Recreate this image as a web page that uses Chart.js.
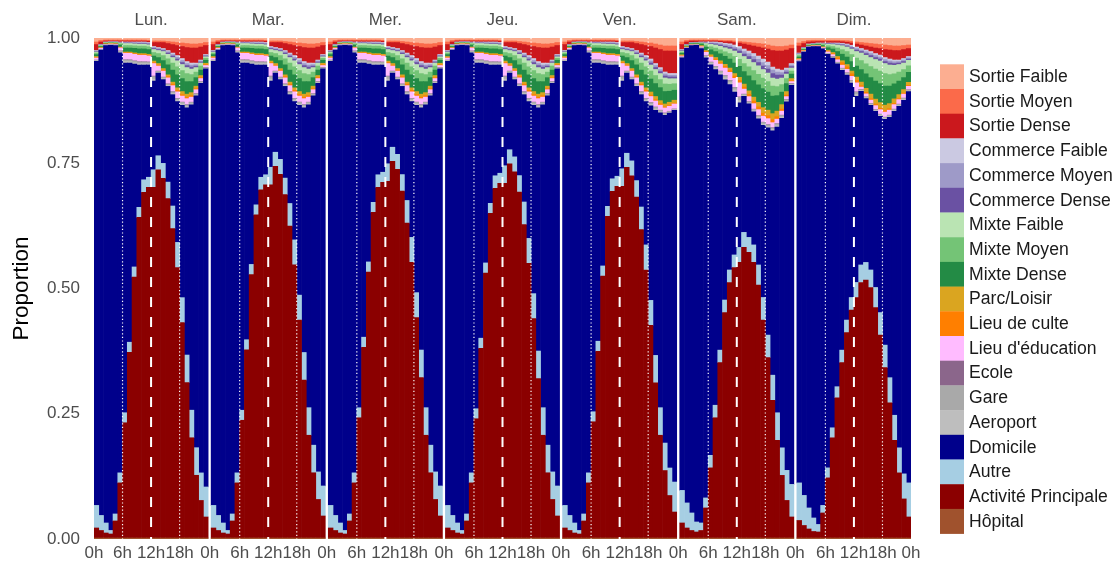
<!DOCTYPE html>
<html><head><meta charset="utf-8">
<script src="https://cdn.jsdelivr.net/npm/chart.js@4.4.1/dist/chart.umd.min.js"></script>
<style>html,body{margin:0;padding:0;background:#fff;}canvas{display:block;}</style>
</head><body>
<canvas id="c" width="1117" height="564"></canvas>
<script>
const FONT = "'Liberation Sans', Arial, Helvetica, sans-serif";
const DAYS = ['Lun.','Mar.','Mer.','Jeu.','Ven.','Sam.','Dim.'];
const DAY_PROFILE = ['sem','sem','sem','sem','ven','sam','dim'];
const HOURS = [0,1,2,3,4,5,6,7,8,9,10,11,12,13,14,15,16,17,18,19,20,21,22,23];
const HOUR_TICK_VALUES = [0,6,12,18];
const HOUR_TICK_LABELS = ['0h','6h','12h','18h'];
const END_TICK_LABEL = '0h';

// legend order (top of stack first)
const LEGEND_ORDER = ['Sortie Faible','Sortie Moyen','Sortie Dense','Commerce Faible','Commerce Moyen','Commerce Dense','Mixte Faible','Mixte Moyen','Mixte Dense','Parc/Loisir','Lieu de culte',"Lieu d'éducation",'Ecole','Gare','Aeroport','Domicile','Autre','Activité Principale','Hôpital'];
const LEGEND_COLORS = ['#FCAE91','#FB6A4A','#CB181D','#CBC9E2','#9E9AC8','#6A51A3','#BAE4B3','#74C476','#238B45','#DAA520','#FF7F00','#FFBBFF','#8B668B','#A9A9A9','#BEBEBE','#00008B','#A6CEE3','#8B0000','#A0522D'];

// ---- weekday profile (Lun.-Jeu.) minor categories ----
const SF_SEM = [.008,.005,.004,.004,.004,.004,.004,.004,.004,.004,.004,.0045,.006,.006,.006,.007,.008,.009,.01,.011,.012,.012,.011,.009];
const SM_SEM = [.005,.003,.002,.002,.002,.002,.002,.002,.002,.002,.002,.002,.003,.003,.003,.004,.005,.006,.007,.008,.008,.008,.007,.006];
const SD_SEM = [.012,.005,.002,.0015,.0015,.002,.002,.002,.002,.002,.002,.0025,.008,.01,.012,.014,.017,.02,.024,.028,.03,.03,.026,.018];
const CF_SEM = [.001,.0005,.0004,.0004,.0004,.0006,.001,.001,.0012,.0014,.0014,.0015,.002,.002,.002,.0025,.003,.0035,.004,.004,.004,.003,.002,.0015];
const CM_SEM = [.001,.0005,.0004,.0004,.0004,.0006,.001,.001,.0012,.0014,.0014,.0015,.002,.002,.002,.0025,.003,.0035,.004,.004,.004,.003,.002,.0015];
const CD_SEM = [.001,.0005,.0004,.0004,.0004,.0006,.001,.001,.0012,.0014,.0014,.0015,.002,.002,.002,.0025,.003,.0035,.004,.004,.004,.003,.002,.0015];
const MF_SEM = [.002,.001,.0006,.0006,.0007,.0018,.004,.004,.004,.004,.004,.004,.006,.006,.008,.009,.011,.012,.012,.012,.011,.009,.006,.003];
const MM_SEM = [.003,.0015,.0008,.0008,.0009,.0025,.005,.005,.005,.0055,.0055,.0055,.007,.008,.01,.012,.014,.016,.016,.016,.014,.011,.008,.004];
const MD_SEM = [.004,.002,.001,.001,.0012,.004,.008,.008,.009,.0095,.0095,.0095,.01,.012,.016,.02,.024,.026,.026,.025,.022,.017,.011,.006];
const PL_SEM = [.002,.001,.0006,.0005,.0005,.001,.0015,.0015,.0018,.002,.002,.002,.003,.003,.003,.0035,.004,.005,.006,.006,.006,.005,.004,.003];
const LC_SEM = [.001,.0005,.0004,.0004,.0004,.0007,.001,.001,.0012,.0013,.0013,.0013,.002,.002,.002,.0025,.003,.003,.003,.003,.003,.002,.002,.0015];
const LE_SEM = [.004,.002,.0012,.0012,.0015,.006,.013,.013,.013,.013,.013,.012,.025,.01,.012,.012,.012,.013,.012,.012,.01,.008,.006,.004];
const EC_SEM = [.0005,.0003,.0002,.0002,.0002,.0004,.0005,.0005,.0005,.0005,.0005,.0005,.001,.0005,.0005,.0005,.0005,.0005,.0005,.0005,.0005,.0005,.0005,.0005];
const GA_SEM = [.001,.0007,.0005,.0005,.0006,.0018,.003,.003,.003,.003,.003,.0028,.005,.002,.0025,.0025,.003,.003,.003,.003,.0025,.002,.0015,.001];
const AE_SEM = [.001,.0007,.0005,.0005,.0006,.0018,.003,.003,.003,.003,.003,.0028,.004,.0015,.002,.002,.0025,.003,.003,.003,.0025,.002,.0015,.001];

// ---- Friday evening differs (more outings) ----
const SF_VEN = [.008,.005,.004,.004,.004,.004,.004,.004,.004,.004,.004,.0045,.006,.006,.006,.007,.008,.009,.01,.012,.014,.016,.016,.016];
const SM_VEN = [.005,.003,.002,.002,.002,.002,.002,.002,.002,.002,.002,.002,.003,.003,.003,.004,.005,.006,.007,.008,.009,.01,.01,.01];
const SD_VEN = [.012,.005,.002,.0015,.0015,.002,.002,.002,.002,.002,.002,.0025,.008,.01,.012,.014,.017,.02,.025,.031,.036,.042,.045,.045];
const CF_VEN = [.001,.0005,.0004,.0004,.0004,.0006,.001,.001,.0012,.0014,.0014,.0015,.002,.002,.002,.0025,.003,.0035,.004,.004,.004,.004,.0035,.0035];
const CM_VEN = [.001,.0005,.0004,.0004,.0004,.0006,.001,.001,.0012,.0014,.0014,.0015,.002,.002,.002,.0025,.003,.0035,.004,.004,.004,.004,.0035,.0035];
const CD_VEN = [.001,.0005,.0004,.0004,.0004,.0006,.001,.001,.0012,.0014,.0014,.0015,.002,.002,.002,.0025,.003,.0035,.004,.004,.004,.004,.0035,.0035];
const MF_VEN = [.002,.001,.0006,.0006,.0007,.0018,.004,.004,.004,.004,.004,.004,.006,.006,.008,.009,.011,.012,.012,.012,.012,.012,.011,.01];
const MM_VEN = [.003,.0015,.0008,.0008,.0009,.0025,.005,.005,.005,.0055,.0055,.0055,.007,.008,.01,.012,.014,.016,.016,.016,.016,.015,.014,.013];
const MD_VEN = [.004,.002,.001,.001,.0012,.004,.008,.008,.009,.0095,.0095,.0095,.01,.012,.016,.02,.024,.026,.026,.026,.026,.025,.022,.02];
const PL_VEN = [.002,.001,.0006,.0005,.0005,.001,.0015,.0015,.0018,.002,.002,.002,.003,.003,.003,.0035,.004,.005,.006,.006,.006,.006,.006,.006];
const LE_VEN = [.004,.002,.0012,.0012,.0015,.006,.013,.013,.013,.013,.013,.012,.025,.01,.012,.012,.012,.013,.012,.012,.01,.01,.01,.01];

// ---- Saturday profile ----
const SF_SAM = [.008,.005,.004,.004,.004,.004,.004,.004,.0045,.005,.005,.006,.007,.008,.009,.01,.011,.012,.014,.016,.017,.017,.016,.014];
const SM_SAM = [.005,.003,.002,.002,.002,.002,.002,.002,.002,.0025,.0025,.003,.003,.004,.005,.006,.007,.008,.008,.009,.009,.009,.008,.007];
const SD_SAM = [.01,.005,.003,.0025,.002,.002,.002,.002,.0025,.003,.004,.005,.007,.01,.012,.015,.018,.022,.026,.033,.036,.038,.036,.03];
const CF_SAM = [.001,.0005,.0004,.0004,.0005,.001,.0015,.002,.0025,.003,.0035,.004,.0045,.005,.0055,.006,.0065,.007,.007,.006,.006,.005,.004,.003];
const CM_SAM = [.001,.0005,.0004,.0004,.0005,.001,.0015,.002,.0025,.003,.0035,.004,.0045,.005,.0055,.006,.0065,.007,.007,.007,.006,.005,.004,.003];
const CD_SAM = [.001,.0005,.0004,.0004,.0005,.001,.0015,.002,.0025,.003,.0035,.004,.0045,.005,.0055,.006,.0065,.007,.008,.009,.008,.006,.004,.003];
const MF_SAM = [.002,.0008,.0006,.0006,.0012,.003,.005,.006,.007,.008,.009,.011,.012,.014,.015,.016,.017,.017,.017,.016,.015,.013,.009,.006];
const MM_SAM = [.0025,.001,.0008,.0008,.0015,.004,.006,.007,.008,.009,.011,.013,.014,.016,.018,.02,.021,.021,.021,.02,.018,.015,.01,.006];
const MD_SAM = [.003,.0012,.001,.001,.003,.007,.01,.012,.014,.016,.018,.021,.022,.025,.03,.033,.035,.038,.036,.035,.031,.025,.016,.009];
const PL_SAM = [.0015,.0008,.0006,.0006,.0015,.002,.0025,.003,.0035,.004,.0045,.005,.006,.006,.007,.008,.009,.011,.011,.012,.011,.009,.007,.004];
const LC_SAM = [.001,.0005,.0004,.0004,.0007,.0015,.002,.0025,.003,.0035,.004,.0045,.005,.004,.0045,.005,.0055,.006,.006,.006,.005,.004,.003,.002];
const LE_SAM = [.002,.0008,.0006,.0006,.0025,.007,.01,.012,.014,.015,.016,.018,.028,.01,.01,.011,.012,.012,.012,.01,.009,.008,.006,.004];
const EC_SAM = [.0003,.0002,.0002,.0002,.0002,.0003,.0005,.0005,.0005,.0005,.0005,.0005,.001,.0005,.0005,.0005,.0005,.0005,.0005,.0005,.0005,.0005,.0005,.0005];
const GA_SAM = [.0006,.0004,.0003,.0003,.0005,.002,.0025,.003,.0035,.004,.004,.0045,.006,.002,.002,.0025,.003,.003,.003,.003,.0035,.003,.002,.0015];
const AE_SAM = [.0006,.0004,.0003,.0003,.0005,.0017,.0025,.003,.0035,.004,.004,.0045,.005,.002,.002,.0025,.003,.003,.003,.003,.003,.003,.002,.0015];

// ---- Sunday profile ----
const SF_DIM = [.01,.007,.005,.0045,.0045,.0045,.0045,.0045,.0045,.005,.0055,.0065,.008,.009,.01,.011,.012,.013,.014,.015,.016,.016,.015,.014];
const SM_DIM = [.006,.004,.003,.003,.0025,.0025,.0025,.0025,.0025,.0025,.003,.0035,.004,.005,.006,.007,.008,.008,.009,.009,.009,.009,.008,.007];
const SD_DIM = [.014,.008,.004,.0035,.003,.003,.003,.003,.003,.003,.0035,.0045,.006,.007,.008,.009,.011,.013,.016,.018,.019,.019,.018,.016];
const CF_DIM = [.001,.0005,.0004,.0004,.0004,.0005,.0008,.001,.0013,.0016,.002,.0025,.003,.003,.0035,.004,.004,.004,.004,.004,.0035,.003,.003,.0025];
const CM_DIM = [.001,.0005,.0004,.0004,.0004,.0005,.0008,.001,.0013,.0016,.002,.0025,.003,.003,.0035,.004,.004,.004,.004,.004,.0035,.003,.003,.0025];
const CD_DIM = [.001,.0005,.0004,.0004,.0004,.0005,.0008,.001,.0013,.0016,.002,.0025,.003,.003,.0035,.004,.004,.004,.004,.004,.0035,.003,.003,.0025];
const MF_DIM = [.002,.001,.0007,.0007,.0008,.0015,.003,.004,.006,.008,.009,.011,.013,.015,.017,.018,.019,.02,.02,.019,.017,.015,.013,.011];
const MM_DIM = [.003,.0015,.001,.001,.0011,.002,.004,.005,.007,.009,.011,.014,.016,.018,.02,.022,.024,.025,.025,.023,.02,.018,.016,.013];
const MD_DIM = [.003,.0015,.001,.001,.0013,.0025,.005,.007,.01,.013,.015,.019,.022,.025,.029,.033,.036,.038,.038,.035,.03,.027,.024,.02];
const PL_DIM = [.0015,.001,.0006,.0006,.0007,.001,.0018,.0022,.003,.004,.0045,.0055,.0065,.007,.008,.009,.01,.011,.011,.01,.009,.008,.007,.006];
const LC_DIM = [.001,.0005,.0004,.0004,.0005,.0008,.0015,.002,.0035,.005,.005,.005,.005,.003,.003,.003,.003,.003,.003,.003,.0025,.002,.002,.002];
const LE_DIM = [.002,.001,.0006,.0006,.0008,.0015,.003,.004,.005,.006,.007,.008,.018,.005,.006,.007,.008,.009,.01,.01,.009,.009,.008,.007];
const EC_DIM = [.0003,.0002,.0002,.0002,.0002,.0002,.0003,.0003,.0003,.0003,.0003,.0003,.0008,.0003,.0003,.0003,.0003,.0003,.0003,.0003,.0003,.0003,.0003,.0003];
const GA_DIM = [.0006,.0004,.0003,.0003,.0003,.0004,.0008,.0012,.0015,.002,.002,.0025,.004,.0015,.0015,.0015,.0015,.002,.002,.002,.002,.002,.002,.0015];
const AE_DIM = [.0006,.0004,.0003,.0003,.0003,.0004,.0008,.0012,.0015,.002,.002,.0025,.004,.0015,.0015,.0015,.0015,.002,.002,.002,.002,.002,.002,.0015];

// ---- main categories, per day ----
const ACT_LUN = [.02,.015,.01,.008,.034,.11,.23,.37,.52,.64,.69,.70,.70,.735,.717,.677,.617,.54,.43,.31,.20,.125,.075,.042];
const ACT_MAR = [.02,.015,.01,.008,.034,.11,.235,.375,.525,.645,.695,.705,.705,.742,.725,.685,.622,.545,.435,.315,.205,.13,.077,.044];
const ACT_MER = [.02,.015,.01,.008,.034,.11,.24,.38,.53,.65,.70,.71,.712,.752,.735,.692,.628,.55,.44,.32,.205,.13,.077,.044];
const ACT_JEU = [.02,.015,.01,.008,.034,.11,.238,.378,.528,.648,.698,.708,.708,.747,.73,.69,.625,.548,.438,.318,.205,.13,.077,.044];
const ACT_VEN = [.02,.015,.01,.008,.034,.11,.232,.372,.522,.642,.692,.702,.702,.74,.722,.68,.615,.535,.425,.31,.205,.135,.085,.052];
const ACT_SAM = [.03,.02,.015,.012,.015,.06,.14,.24,.35,.45,.51,.54,.55,.58,.57,.55,.505,.435,.36,.275,.195,.125,.075,.042];
const ACT_DIM = [.035,.025,.018,.013,.012,.05,.12,.2,.28,.35,.41,.455,.48,.51,.515,.50,.46,.405,.34,.27,.195,.13,.078,.042];

const AUTRE_SEM = [.045,.03,.02,.007,.014,.02,.02,.02,.02,.02,.025,.02,.035,.028,.03,.033,.045,.05,.05,.055,.055,.055,.055,.06];
const AUTRE_SAM = [.065,.05,.035,.02,.015,.02,.025,.025,.025,.025,.025,.025,.03,.03,.03,.035,.04,.045,.045,.05,.055,.055,.06,.065];
const AUTRE_DIM = [.075,.06,.042,.027,.015,.015,.02,.02,.022,.025,.025,.025,.03,.035,.035,.035,.04,.045,.045,.05,.05,.05,.05,.068];

const DOM_LUN = [.886,.929,.954,.969,.935,.838,.698,.556,.404,.284,.229,.224,.177,.165,.167,.191,.222,.281,.384,.493,.609,.701,.778,.836];
const DOM_MAR = [.886,.929,.954,.969,.935,.838,.693,.551,.399,.279,.224,.219,.172,.158,.159,.183,.217,.276,.379,.488,.604,.696,.776,.834];
const DOM_MER = [.886,.929,.954,.969,.935,.838,.688,.546,.394,.274,.219,.214,.165,.148,.149,.176,.211,.271,.374,.483,.604,.696,.776,.834];
const DOM_JEU = [.886,.929,.954,.969,.935,.838,.69,.548,.396,.276,.221,.216,.169,.153,.154,.178,.214,.273,.376,.485,.604,.696,.776,.834];
const DOM_VEN = [.886,.929,.954,.969,.935,.838,.696,.554,.402,.282,.227,.222,.175,.16,.162,.188,.224,.286,.389,.49,.588,.656,.71,.744];
const DOM_SAM = [.8635,.9074,.933,.9515,.9469,.8785,.7795,.67,.5495,.4395,.37,.325,.2885,.2715,.2665,.2655,.2915,.3435,.4135,.4875,.57,.6575,.7355,.7965];
const DOM_DIM = [.841,.885,.9197,.9407,.9538,.9112,.8254,.7381,.6443,.5584,.4892,.4282,.3717,.3467,.3272,.3287,.3517,.3917,.4507,.5197,.6067,.6817,.7457,.7812];

const HOPITAL = [.002,.002,.002,.002,.002,.002,.002,.002,.002,.002,.002,.002,.002,.002,.002,.002,.002,.002,.002,.002,.002,.002,.002,.002];

// ---- lookup tables built from the arrays ----
const PROFILE_SERIES = {
  'Sortie Faible': {sem: SF_SEM, ven: SF_VEN, sam: SF_SAM, dim: SF_DIM},
  'Sortie Moyen': {sem: SM_SEM, ven: SM_VEN, sam: SM_SAM, dim: SM_DIM},
  'Sortie Dense': {sem: SD_SEM, ven: SD_VEN, sam: SD_SAM, dim: SD_DIM},
  'Commerce Faible': {sem: CF_SEM, ven: CF_VEN, sam: CF_SAM, dim: CF_DIM},
  'Commerce Moyen': {sem: CM_SEM, ven: CM_VEN, sam: CM_SAM, dim: CM_DIM},
  'Commerce Dense': {sem: CD_SEM, ven: CD_VEN, sam: CD_SAM, dim: CD_DIM},
  'Mixte Faible': {sem: MF_SEM, ven: MF_VEN, sam: MF_SAM, dim: MF_DIM},
  'Mixte Moyen': {sem: MM_SEM, ven: MM_VEN, sam: MM_SAM, dim: MM_DIM},
  'Mixte Dense': {sem: MD_SEM, ven: MD_VEN, sam: MD_SAM, dim: MD_DIM},
  'Parc/Loisir': {sem: PL_SEM, ven: PL_VEN, sam: PL_SAM, dim: PL_DIM},
  'Lieu de culte': {sem: LC_SEM, sam: LC_SAM, dim: LC_DIM},
  "Lieu d'éducation": {sem: LE_SEM, ven: LE_VEN, sam: LE_SAM, dim: LE_DIM},
  'Ecole': {sem: EC_SEM, sam: EC_SAM, dim: EC_DIM},
  'Gare': {sem: GA_SEM, sam: GA_SAM, dim: GA_DIM},
  'Aeroport': {sem: AE_SEM, sam: AE_SAM, dim: AE_DIM},
  'Autre': {sem: AUTRE_SEM, sam: AUTRE_SAM, dim: AUTRE_DIM},
  'Hôpital': {sem: HOPITAL, sam: HOPITAL, dim: HOPITAL}
};
const DAY_SERIES = {
  'Activité Principale': [ACT_LUN, ACT_MAR, ACT_MER, ACT_JEU, ACT_VEN, ACT_SAM, ACT_DIM],
  'Domicile': [DOM_LUN, DOM_MAR, DOM_MER, DOM_JEU, DOM_VEN, DOM_SAM, DOM_DIM]
};
function rawValue(cat, d, h) {
  if (DAY_SERIES[cat]) return DAY_SERIES[cat][d][h];
  const p = PROFILE_SERIES[cat];
  return (p[DAY_PROFILE[d]] || p.sem)[h];
}

// ---- geometry of facets on a single linear axis (each bar spans [h, h+1]) ----
const GAP = 0.63;                // blank between facets, in hour units
const PITCH = HOURS.length + GAP;
const X_MIN = 0;
const X_MAX = (DAYS.length - 1) * PITCH + HOURS.length;

const X_TICK_VALUES = [], X_TICK_LABELS = [];
DAYS.forEach((_, d) => {
  HOUR_TICK_VALUES.forEach((v, i) => {
    if (d > 0 && i === 0) return;
    X_TICK_VALUES.push(d * PITCH + v); X_TICK_LABELS.push(HOUR_TICK_LABELS[i]);
  });
  X_TICK_VALUES.push(d * PITCH + HOURS.length + (d < DAYS.length - 1 ? GAP / 2 : 0));
  X_TICK_LABELS.push(END_TICK_LABEL);
});

// totals for position="fill"
const totals = DAYS.map((_, d) => HOURS.map(h => LEGEND_ORDER.reduce((s, c) => s + rawValue(c, d, h), 0)));

const stackOrder = LEGEND_ORDER.slice().reverse(); // bottom first
const datasets = stackOrder.map(cat => {
  const color = LEGEND_COLORS[LEGEND_ORDER.indexOf(cat)];
  const data = [];
  DAYS.forEach((_, d) => HOURS.forEach(h => {
    data.push({x: d * PITCH + h + 0.5, y: rawValue(cat, d, h) / totals[d][h]});
  }));
  return {label: cat, data, backgroundColor: color, borderWidth: 0, barPercentage: 1, categoryPercentage: 1};
});

const overlay = {
  id: 'overlay',
  afterDatasetsDraw(chart) {
    const {ctx, chartArea: a, scales: {x}} = chart;
    ctx.save();
    ctx.strokeStyle = '#ffffff';
    DAYS.forEach((_, d) => {
      const base = d * PITCH;
      ctx.lineWidth = 1.2; ctx.setLineDash([1.2, 2.4]); ctx.lineDashOffset = 0;
      [6, 18].forEach(h => {
        const px = x.getPixelForValue(base + h);
        ctx.beginPath(); ctx.moveTo(px, a.top); ctx.lineTo(px, a.bottom); ctx.stroke();
      });
      ctx.lineWidth = 2; ctx.setLineDash([10, 10]); ctx.lineDashOffset = 1;
      const px = x.getPixelForValue(base + 12);
      ctx.beginPath(); ctx.moveTo(px, a.top); ctx.lineTo(px, a.bottom); ctx.stroke();
    });
    ctx.restore();
  },
  afterDraw(chart) {
    const {ctx, chartArea: a, scales: {x}} = chart;
    ctx.save();
    // facet strips
    ctx.fillStyle = '#4D4D4D';
    ctx.font = '17px ' + FONT;
    ctx.textAlign = 'center'; ctx.textBaseline = 'middle';
    DAYS.forEach((name, d) => {
      ctx.fillText(name, x.getPixelForValue(d * PITCH + 12), 20);
    });
    // y title
    ctx.save();
    ctx.translate(22, (a.top + a.bottom) / 2);
    ctx.rotate(-Math.PI / 2);
    ctx.fillStyle = '#000';
    ctx.font = '22.5px ' + FONT;
    ctx.fillText('Proportion', 0, 0);
    ctx.restore();
    // legend
    const lx = 940, top = 64.3, kw = 24, kh = 24.7;
    ctx.font = '17.6px ' + FONT;
    ctx.textAlign = 'left'; ctx.textBaseline = 'middle';
    LEGEND_ORDER.forEach((name, i) => {
      const y = top + i * kh;
      ctx.fillStyle = LEGEND_COLORS[i];
      ctx.fillRect(lx, y, kw, kh + 0.3);
      ctx.fillStyle = '#1A1A1A';
      ctx.fillText(name, 969, y + kh / 2 + 0.5);
    });
    ctx.restore();
  }
};

Chart.defaults.font.family = FONT;
new Chart(document.getElementById('c'), {
  type: 'bar',
  data: {datasets},
  options: {
    responsive: false,
    animation: false,
    events: [],
    layout: {padding: {left: 0, right: 206, top: 38, bottom: 0}},
    plugins: {legend: {display: false}, tooltip: {enabled: false}},
    scales: {
      x: {
        type: 'linear', stacked: true, min: X_MIN, max: X_MAX, offset: false,
        grid: {display: false, drawTicks: false}, border: {display: false},
        afterBuildTicks: axis => { axis.ticks = X_TICK_VALUES.map(v => ({value: v})); },
        afterFit: s => { s.height = 25; },
        ticks: {autoSkip: false, maxRotation: 0, minRotation: 0, padding: 4, color: '#4D4D4D',
          font: {size: 17, family: FONT},
          callback: (v, i) => X_TICK_LABELS[i]}
      },
      y: {
        stacked: true, min: 0, max: 1,
        grid: {display: false, drawTicks: false}, border: {display: false},
        afterFit: s => { s.width = 94; },
        ticks: {stepSize: 0.25, padding: 14, color: '#4D4D4D', font: {size: 17, family: FONT},
          callback: v => Number(v).toFixed(2)}
      }
    }
  },
  plugins: [overlay]
});
</script>
</body></html>
